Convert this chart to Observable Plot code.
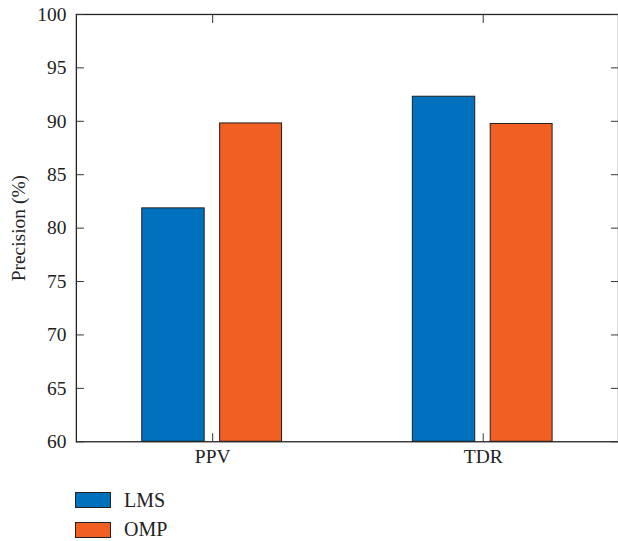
<!DOCTYPE html>
<html><head><meta charset="utf-8">
<script src="https://cdn.jsdelivr.net/npm/d3@7"></script>
<script src="https://cdn.jsdelivr.net/npm/@observablehq/plot@0.6"></script>
<style>
body{margin:0;background:#fff;overflow:hidden;font-family:"Liberation Serif",serif;}
#legend{position:relative;height:63px;}
.item{position:absolute;left:75px;height:16px;display:flex;align-items:center;font-size:20px;color:#222;white-space:nowrap}
.sw{width:36px;height:16px;border:1px solid #222;margin-right:13px;box-sizing:border-box}
</style></head><body><div id="chart"></div><div id="legend"></div>
<script>
const categories = ["PPV", "TDR"];
const series = ["LMS", "OMP"];
const lmsValues = [81.85, 92.3];
const ompValues = [89.8, 89.75];
const yTicks = [60, 65, 70, 75, 80, 85, 90, 95, 100];
const colors = ["#0072BD", "#F15F22"];

const data = categories.flatMap((c, i) => [
  {category: c, series: series[0], value: lmsValues[i]},
  {category: c, series: series[1], value: ompValues[i]}
]);

const plot = Plot.plot({
  width: 619, height: 478,
  marginLeft: 76, marginRight: 0, marginTop: 14, marginBottom: 36,
  style: {fontFamily: "Liberation Serif", fontSize: "19.5px", color: "#222", background: "#fff"},
  x: {domain: categories, padding: 0, label: null},
  y: {domain: [yTicks[0], yTicks[yTicks.length - 1]], label: null},
  marks: [
    Plot.barY(data.filter(d => d.series === series[0]), {x: "category", y1: yTicks[0], y2: "value", fill: colors[0], stroke: "#1f1f1f", strokeWidth: 1, insetLeft: 65, insetRight: 143.5}),
    Plot.barY(data.filter(d => d.series === series[1]), {x: "category", y1: yTicks[0], y2: "value", fill: colors[1], stroke: "#1f1f1f", strokeWidth: 1, insetLeft: 143, insetRight: 66}),
    Plot.frame({stroke: "#222", strokeWidth: 1.3}),
    Plot.axisY(yTicks, {anchor: "left", tickSize: 0, tickPadding: 10, label: null}),
    Plot.axisY(yTicks, {anchor: "left", tickSize: -8, text: null, label: null, stroke: "#333"}),
    Plot.axisY(yTicks, {anchor: "right", tickSize: -8, text: null, label: null, stroke: "#333"}),
    Plot.axisX({anchor: "bottom", tickSize: 0, tickPadding: 7, label: null}),
    Plot.axisX({anchor: "bottom", tickSize: -8, text: null, label: null, stroke: "#333"}),
    Plot.axisX({anchor: "top", tickSize: -8, text: null, label: null, stroke: "#333"}),
    Plot.text(["Precision (%)"], {frameAnchor: "left", rotate: -90, dx: -58, textAnchor: "middle", fill: "#222"})
  ]
});
document.getElementById("chart").appendChild(plot);

const legend = document.getElementById("legend");
const tops = [15, 44.7];
series.forEach((s, i) => {
  const item = document.createElement("div");
  item.className = "item";
  item.style.top = tops[i] + "px";
  item.innerHTML = `<div class="sw" style="background:${colors[i]}"></div><span>${s}</span>`;
  legend.appendChild(item);
});
</script>
</body></html>
